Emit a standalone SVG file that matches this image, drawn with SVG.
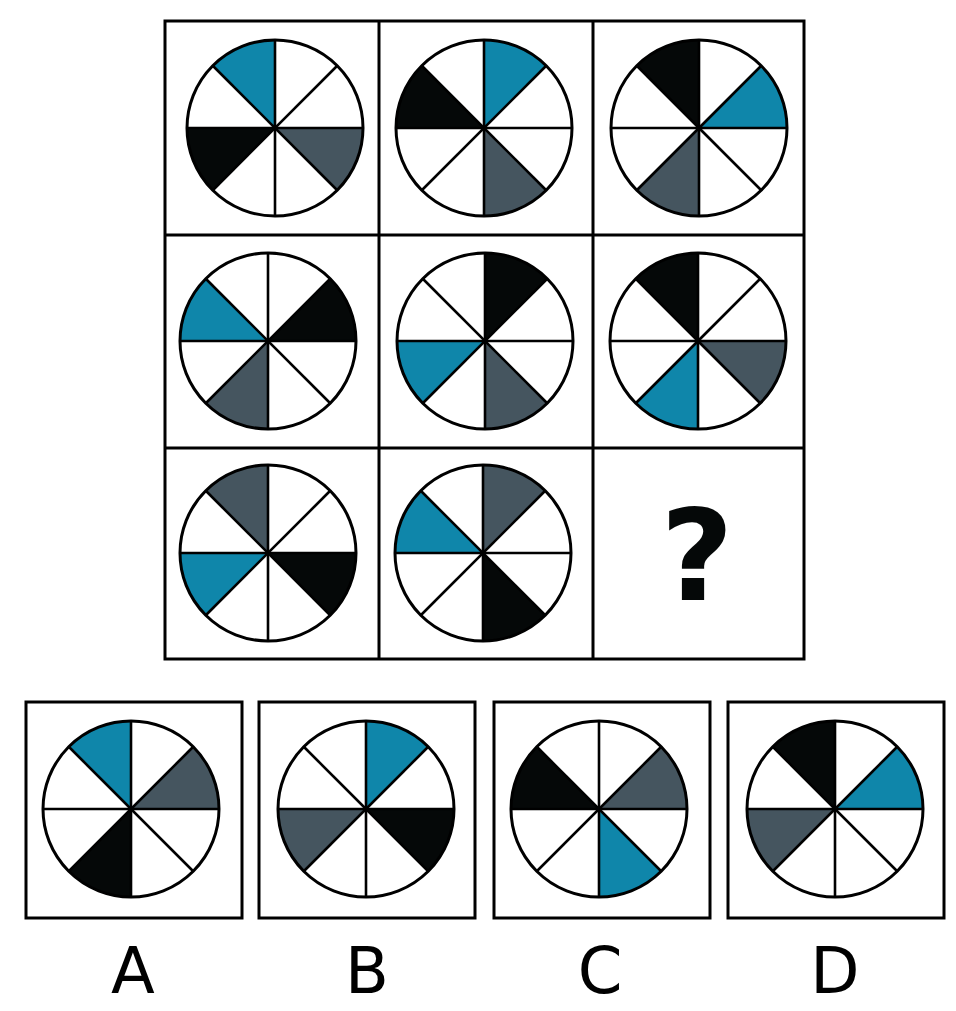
<svg xmlns="http://www.w3.org/2000/svg" xmlns:xlink="http://www.w3.org/1999/xlink" width="956" height="1011" viewBox="0 0 956 1011">
<style>
.bl{fill:#0f86aa}
.bk{fill:#050808}
.gr{fill:#45555f}
.frame{fill:#fff;stroke:#000;stroke-width:3}
.grid{stroke:#000;stroke-width:3;fill:none}
.lbl{font-family:"DejaVu Sans","Liberation Sans",sans-serif;font-size:64px;text-anchor:middle;fill:#000}
.q{font-family:"DejaVu Sans","Liberation Sans",sans-serif;font-size:126px;font-weight:bold;text-anchor:middle;fill:#050808}
</style>
<defs>
<path id="s0" d="M0 0 L0 -88 A88 88 0 0 1 62.23 -62.23 Z"/>
<path id="s1" d="M0 0 L62.23 -62.23 A88 88 0 0 1 88 0 Z"/>
<path id="s2" d="M0 0 L88 0 A88 88 0 0 1 62.23 62.23 Z"/>
<path id="s3" d="M0 0 L62.23 62.23 A88 88 0 0 1 0 88 Z"/>
<path id="s4" d="M0 0 L0 88 A88 88 0 0 1 -62.23 62.23 Z"/>
<path id="s5" d="M0 0 L-62.23 62.23 A88 88 0 0 1 -88 0 Z"/>
<path id="s6" d="M0 0 L-88 0 A88 88 0 0 1 -62.23 -62.23 Z"/>
<path id="s7" d="M0 0 L-62.23 -62.23 A88 88 0 0 1 0 -88 Z"/>
<g id="wheel">
<g stroke="#000" stroke-width="2.6">
<line x1="0" y1="-88" x2="0" y2="88"/>
<line x1="-88" y1="0" x2="88" y2="0"/>
<line x1="-62.23" y1="-62.23" x2="62.23" y2="62.23"/>
<line x1="62.23" y1="-62.23" x2="-62.23" y2="62.23"/>
</g>
<circle r="88" fill="none" stroke="#000" stroke-width="3"/>
</g>
</defs>
<rect width="956" height="1011" fill="#fff"/>
<g id="grid">
<rect class="frame" x="165" y="21" width="639" height="638"/>
<line class="grid" x1="379" y1="21" x2="379" y2="659"/>
<line class="grid" x1="593" y1="21" x2="593" y2="659"/>
<line class="grid" x1="165" y1="235" x2="804" y2="235"/>
<line class="grid" x1="165" y1="448" x2="804" y2="448"/>
</g>
<g id="r1c1" transform="translate(275,128)"><circle r="88" fill="#fff"/><use href="#s7" class="bl"/><use href="#s5" class="bk"/><use href="#s2" class="gr"/><use href="#wheel"/></g>
<g id="r1c2" transform="translate(484,128)"><circle r="88" fill="#fff"/><use href="#s0" class="bl"/><use href="#s6" class="bk"/><use href="#s3" class="gr"/><use href="#wheel"/></g>
<g id="r1c3" transform="translate(699,128)"><circle r="88" fill="#fff"/><use href="#s7" class="bk"/><use href="#s1" class="bl"/><use href="#s4" class="gr"/><use href="#wheel"/></g>
<g id="r2c1" transform="translate(268,341)"><circle r="88" fill="#fff"/><use href="#s6" class="bl"/><use href="#s1" class="bk"/><use href="#s4" class="gr"/><use href="#wheel"/></g>
<g id="r2c2" transform="translate(485,341)"><circle r="88" fill="#fff"/><use href="#s0" class="bk"/><use href="#s5" class="bl"/><use href="#s3" class="gr"/><use href="#wheel"/></g>
<g id="r2c3" transform="translate(698,341)"><circle r="88" fill="#fff"/><use href="#s7" class="bk"/><use href="#s2" class="gr"/><use href="#s4" class="bl"/><use href="#wheel"/></g>
<g id="r3c1" transform="translate(268,553)"><circle r="88" fill="#fff"/><use href="#s7" class="gr"/><use href="#s5" class="bl"/><use href="#s2" class="bk"/><use href="#wheel"/></g>
<g id="r3c2" transform="translate(483,553)"><circle r="88" fill="#fff"/><use href="#s0" class="gr"/><use href="#s6" class="bl"/><use href="#s3" class="bk"/><use href="#wheel"/></g>
<g id="r3c3"><text class="q" x="697" y="600">?</text></g>
<g id="optA">
<rect class="frame" x="26" y="702" width="216" height="216"/>
<g transform="translate(131,809)"><circle r="88" fill="#fff"/><use href="#s7" class="bl"/><use href="#s1" class="gr"/><use href="#s4" class="bk"/><use href="#wheel"/></g>
<text class="lbl" x="133" y="993">A</text>
</g>
<g id="optB">
<rect class="frame" x="259" y="702" width="216" height="216"/>
<g transform="translate(366,809)"><circle r="88" fill="#fff"/><use href="#s0" class="bl"/><use href="#s5" class="gr"/><use href="#s2" class="bk"/><use href="#wheel"/></g>
<text class="lbl" x="367" y="993">B</text>
</g>
<g id="optC">
<rect class="frame" x="494" y="702" width="216" height="216"/>
<g transform="translate(599,809)"><circle r="88" fill="#fff"/><use href="#s6" class="bk"/><use href="#s1" class="gr"/><use href="#s3" class="bl"/><use href="#wheel"/></g>
<text class="lbl" x="600" y="993">C</text>
</g>
<g id="optD">
<rect class="frame" x="728" y="702" width="216" height="216"/>
<g transform="translate(835,809)"><circle r="88" fill="#fff"/><use href="#s7" class="bk"/><use href="#s1" class="bl"/><use href="#s5" class="gr"/><use href="#wheel"/></g>
<text class="lbl" x="835" y="993">D</text>
</g>
<g id="connectors"/>
</svg>
